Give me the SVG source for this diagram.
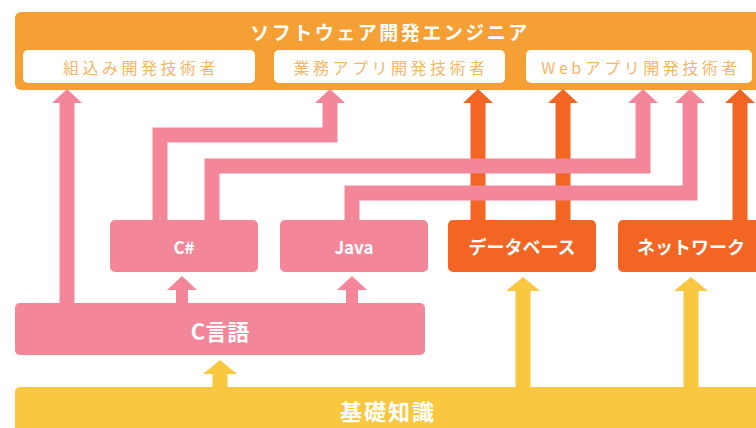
<svg xmlns="http://www.w3.org/2000/svg" width="756" height="428" viewBox="0 0 756 428">
<style>
text{font-family:"Noto Sans CJK JP","Noto Sans",sans-serif;text-anchor:middle;dominant-baseline:central}
.w{fill:#fff;font-weight:bold}
.t{fill:#F4B76A;font-size:16px;letter-spacing:3.5px}
.pk{fill:#F4869A}
.og{fill:#F26522}
.ye{fill:#F9C840}
.lp{fill:none;stroke:#F4869A;stroke-width:15;stroke-linejoin:miter}
.lo{fill:none;stroke:#F26522;stroke-width:15}
.ly{fill:none;stroke:#F9C840;stroke-width:15}
</style>
<defs>
<marker id="hp" markerUnits="userSpaceOnUse" markerWidth="16" markerHeight="32" refX="0" refY="16" orient="auto" viewBox="0 0 16 32"><path d="M0,1 L14,16 L0,31 Z" fill="#F4869A"/></marker>
<marker id="ho" markerUnits="userSpaceOnUse" markerWidth="16" markerHeight="32" refX="0" refY="16" orient="auto" viewBox="0 0 16 32"><path d="M0,1 L14,16 L0,31 Z" fill="#F26522"/></marker>
<marker id="hy" markerUnits="userSpaceOnUse" markerWidth="16" markerHeight="36" refX="0" refY="18" orient="auto" viewBox="0 0 16 36"><path d="M0,1 L14,18 L0,35 Z" fill="#F9C840"/></marker>
</defs>
<rect width="756" height="428" fill="#fff"/>

<g id="engineer">
<rect x="15" y="12" width="760" height="78" rx="6" fill="#F5A034"/>
<text x="390" y="31" class="w" style="font-size:19px;letter-spacing:2.5px">ソフトウェア開発エンジニア</text>
</g>
<g id="embedded">
<rect x="23" y="50" width="232" height="33" rx="5" fill="#fff"/>
<text x="141" y="67" class="t">組込み開発技術者</text>
</g>
<g id="business">
<rect x="274" y="50" width="231" height="33" rx="5" fill="#fff"/>
<text x="391" y="67" class="t">業務アプリ開発技術者</text>
</g>
<g id="web">
<rect x="526" y="50" width="226" height="33" rx="5" fill="#fff"/>
<text x="641" y="67" class="t">Webアプリ開発技術者</text>
</g>

<g id="connectors">
<path class="lo" d="M478,220 V103" marker-end="url(#ho)"/>
<path class="lo" d="M563,220 V103" marker-end="url(#ho)"/>
<path class="lo" d="M740,220 V103" marker-end="url(#ho)"/>
<path class="lp" d="M67,303 V103" marker-end="url(#hp)"/>
<path class="lp" d="M160,222 V135 H330 V103" marker-end="url(#hp)"/>
<path class="lp" d="M212,222 V166 H643 V103" marker-end="url(#hp)"/>
<path class="lp" d="M352,222 V193 H690 V103" marker-end="url(#hp)"/>
<path class="lp" style="stroke-width:12" d="M182,303 V290" marker-end="url(#hp)"/>
<path class="lp" style="stroke-width:12" d="M352,303 V290" marker-end="url(#hp)"/>
<path class="ly" d="M220,387 V374" marker-end="url(#hy)"/>
<path class="ly" d="M523,387 V291" marker-end="url(#hy)"/>
<path class="ly" d="M691,387 V291" marker-end="url(#hy)"/>
</g>

<g id="csharp">
<rect x="110" y="220" width="148" height="52" rx="5" class="pk"/>
<text x="184" y="246" class="w" style="font-size:17px">C#</text>
</g>
<g id="java">
<rect x="280" y="220" width="148" height="52" rx="5" class="pk"/>
<text x="354" y="246" class="w" style="font-size:17px">Java</text>
</g>
<g id="database">
<rect x="448" y="220" width="148" height="52" rx="5" class="og"/>
<text x="522" y="246" class="w" style="font-size:18px">データベース</text>
</g>
<g id="network">
<rect x="618" y="220" width="150" height="52" rx="5" class="og"/>
<text x="691" y="246" class="w" style="font-size:18px">ネットワーク</text>
</g>
<g id="clang">
<rect x="15" y="303" width="410" height="52" rx="5" class="pk"/>
<text x="220" y="330" class="w" style="font-size:22px">C言語</text>
</g>
<g id="basics">
<rect x="15" y="387" width="760" height="50" rx="5" class="ye"/>
<text x="388" y="410" class="w" style="font-size:22px;letter-spacing:2px">基礎知識</text>
</g>
</svg>
